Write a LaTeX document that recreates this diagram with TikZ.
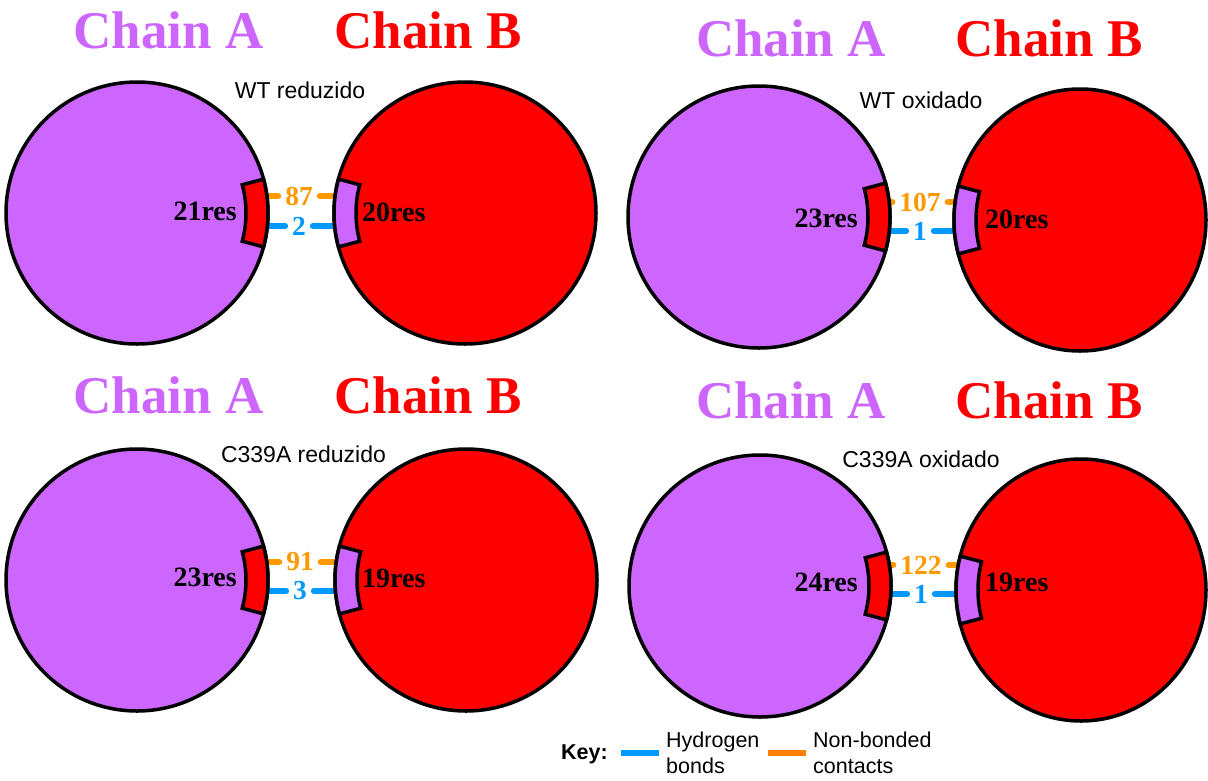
\documentclass[tikz,border=0pt]{standalone}
\usepackage{fontspec}
\setmainfont{Liberation Serif}
\newfontfamily\arialfont{Liberation Sans}
\usetikzlibrary{shapes.geometric}
\pgfdeclarelayer{paper}
\pgfdeclarelayer{links}
\pgfsetlayers{paper,links,main}

\definecolor{chainviolet}{HTML}{CC66FF}
\definecolor{chainred}{HTML}{FF0000}
\definecolor{nbcorange}{HTML}{FF9900}
\definecolor{hbblue}{HTML}{0099FF}
\definecolor{keyorange}{HTML}{FF8000}

\tikzset{
  title/.style={font=\fontsize{53}{60}\selectfont\bfseries, anchor=base, inner sep=0pt},
  titleA/.style={title, text=chainviolet},
  titleB/.style={title, text=chainred},
  caption/.style={font=\arialfont\fontsize{23}{26}\selectfont, anchor=base, inner sep=0pt},
  chainA/.style={ellipse, draw=black, line width=3.5pt, fill=chainviolet, inner sep=0pt,
                 minimum width=262pt, minimum height=262pt},
  chainB/.style={ellipse, draw=black, line width=3.5pt, fill=chainred, inner sep=0pt,
                 minimum width=262pt, minimum height=262pt},
  reslabel/.style={font=\fontsize{28}{30}\selectfont\bfseries, inner sep=0pt},
  count/.style={font=\fontsize{27.5}{30}\selectfont\bfseries, inner xsep=7pt, inner ysep=0pt},
  nbc/.style={count, text=nbcorange},
  hbc/.style={count, text=hbblue},
  nbcline/.style={draw=nbcorange, line width=6.5pt, line cap=round},
  hbline/.style={draw=hbblue, line width=6.5pt, line cap=round},
  patch/.style={draw=black, line width=3.5pt, line join=miter},
  keytext/.style={font=\arialfont\fontsize{21.5}{26}\selectfont, inner sep=0pt, anchor=base west},
  keyhead/.style={keytext, font=\arialfont\bfseries\fontsize{21.5}{26}\selectfont},
  keyswatch/.style={line width=6pt},
}

% interface patch: annular sector on the rim of a chain
% #1 node, #2 x radius, #3 y radius, #4 start angle, #5 end angle, #6 fill
\newcommand\interfacepatch[6]{%
  \begin{scope}[shift={(#1.center)}]
    \draw[patch, fill=#6]
      ({#2*cos(#4)},{#3*sin(#4)})
        arc[start angle=#4, end angle=#5, x radius=#2pt, y radius=#3pt]
      -- ({(#2-22)*cos(#5)},{(#3-22)*sin(#5)})
        arc[start angle=#5, end angle=#4, x radius=#2pt-22pt, y radius=#3pt-22pt]
      -- cycle;
  \end{scope}}

\begin{document}
\begin{tikzpicture}[x=1pt, y=1pt]
\useasboundingbox (0,0) rectangle (1208,-780);
\begin{pgfonlayer}{paper}
  \fill[white] (0,0) rectangle (1208,-780);
\end{pgfonlayer}

% ---------- WT reduzido ----------
\node[titleA] (tA1) at (168.5,-48.5) {Chain A};
\node[titleB] (tB1) at (428,-48.5) {Chain B};
\node[caption] (cap1) at (300,-98) {WT reduzido};
\node[chainA] (A1) at (137,-213) {};
\node[chainB] (B1) at (465,-213) {};
\interfacepatch{A1}{131}{131}{-15}{15}{chainred}
\interfacepatch{B1}{131}{131}{165}{195}{chainviolet}
\node[reslabel, anchor=base east] (rA1) at (237,-220) {21res};
\node[reslabel, anchor=base west] (rB1) at (362,-221) {20res};
\node[nbc] (n1) at (299,-196) {87};
\node[hbc] (h1) at (299,-226) {2};

% ---------- WT oxidado ----------
\node[titleA] (tA2) at (791,-56) {Chain A};
\node[titleB] (tB2) at (1049,-56) {Chain B};
\node[caption] (cap2) at (921,-108) {WT oxidado};
\node[chainA] (A2) at (759,-217) {};
\node[chainB, minimum width=252pt] (B2) at (1080,-220) {};
\interfacepatch{A2}{131}{131}{-15}{15}{chainred}
\interfacepatch{B2}{126}{131}{165}{195}{chainviolet}
\node[reslabel, anchor=base east] (rA2) at (858,-227) {23res};
\node[reslabel, anchor=base west] (rB2) at (985,-228) {20res};
\node[nbc] (n2) at (920,-202) {107};
\node[hbc] (h2) at (920,-231) {1};

% ---------- C339A reduzido ----------
\node[titleA] (tA3) at (168.5,-413) {Chain A};
\node[titleB] (tB3) at (428,-413) {Chain B};
\node[caption] (cap3) at (303.5,-462) {C339A reduzido};
\node[chainA] (A3) at (137,-580) {};
\node[chainB] (B3) at (466,-580) {};
\interfacepatch{A3}{131}{131}{-15}{15}{chainred}
\interfacepatch{B3}{131}{131}{165}{195}{chainviolet}
\node[reslabel, anchor=base east] (rA3) at (237,-586) {23res};
\node[reslabel, anchor=base west] (rB3) at (362,-587) {19res};
\node[nbc] (n3) at (300,-562) {91};
\node[hbc] (h3) at (300,-591) {3};

% ---------- C339A oxidado ----------
\node[titleA] (tA4) at (791,-418) {Chain A};
\node[titleB] (tB4) at (1049,-418) {Chain B};
\node[caption] (cap4) at (921,-467) {C339A oxidado};
\node[chainA] (A4) at (760,-586) {};
\node[chainB, minimum width=250pt] (B4) at (1081,-590) {};
\interfacepatch{A4}{131}{131}{-15}{15}{chainred}
\interfacepatch{B4}{125}{131}{165}{195}{chainviolet}
\node[reslabel, anchor=base east] (rA4) at (858,-591) {24res};
\node[reslabel, anchor=base west] (rB4) at (985,-591) {19res};
\node[nbc] (n4) at (921,-565) {122};
\node[hbc] (h4) at (921,-594) {1};

% contact bars run from chain to chain, behind the chains
\begin{pgfonlayer}{links}
  \foreach \i in {1,2,3,4}{
    \draw[nbcline] (A\i.center |- n\i) -- (n\i);
    \draw[nbcline] (n\i) -- (B\i.center |- n\i);
    \draw[hbline] (A\i.center |- h\i) -- (h\i);
    \draw[hbline] (h\i) -- (B\i.center |- h\i);
  }
\end{pgfonlayer}

% ---------- key ----------
\node[keyhead] (key) at (561,-759.5) {Key:};
\coordinate (hbL) at (621,-753);
\coordinate (hbR) at (659,-753);
\draw[keyswatch, hbblue] (hbL) -- (hbR);
\node[keytext] (hbT1) at (666,-747) {Hydrogen};
\node[keytext] (hbT2) at (666,-773) {bonds};
\coordinate (nbL) at (768,-753);
\coordinate (nbR) at (806,-753);
\draw[keyswatch, keyorange] (nbL) -- (nbR);
\node[keytext] (nbT1) at (813,-747) {Non-bonded};
\node[keytext] (nbT2) at (813,-773) {contacts};
\end{tikzpicture}
\end{document}
